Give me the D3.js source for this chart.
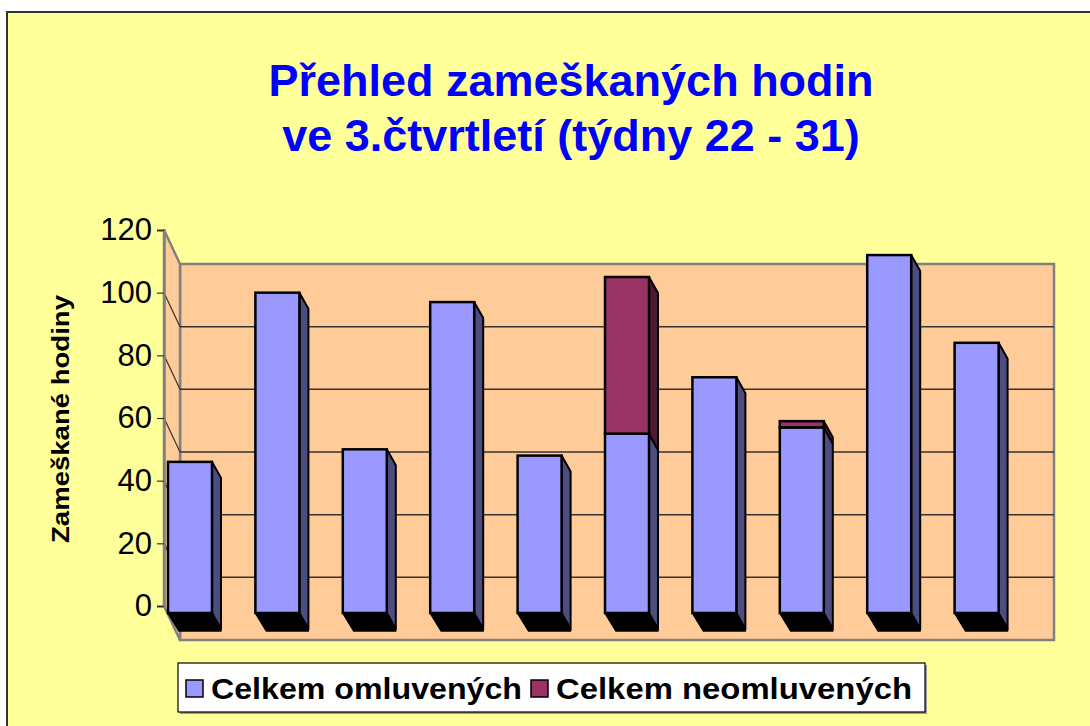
<!DOCTYPE html>
<html>
<head>
<meta charset="utf-8">
<script src="https://cdn.jsdelivr.net/npm/d3@7"></script>
<style>
html,body{margin:0;padding:0;background:#fff;}
svg{display:block;font-family:"Liberation Sans",Arial,sans-serif;}
</style>
</head>
<body>
<svg id="chart" width="1090" height="726"></svg>
<script>
// ---- data ----
const categories = ["22","23","24","25","26","27","28","29","30","31"];
const omluvene   = [46, 100, 50, 97, 48, 55, 73, 57, 112, 84];
const neomluvene = [0, 0, 0, 0, 0, 50, 0, 2, 0, 0];
const yTicks = [0, 20, 40, 60, 80, 100, 120];
const seriesNames = ["Celkem omluvených", "Celkem neomluvených"];
const titleLines = ["Přehled zameškaných hodin", "ve 3.čtvrtletí (týdny 22 - 31)"];
const yTitle = "Zameškané hodiny";

// ---- layout ----
const svg = d3.select("#chart");
const colors = {
  front: ["#9999ff", "#993366"],
  side:  ["#4d4d80", "#4d1a33"],
};
const wallDX = 16, wallDY = 34;     // depth of walls
const barDX = 9, barDY = 16;        // depth of bars
const baseDrop = 7;                 // bar plane offset below front zero
const y = d3.scaleLinear().domain([0, 120]).range([606, 230]);
const x = d3.scaleBand().domain(categories).range([164, 1038]).padding(0);
const barW = 44, barOff = 4;

// background + border
svg.append("rect").attr("x", 7).attr("y", 12).attr("width", 1100).attr("height", 730)
  .attr("fill", "#ffff99").attr("stroke", "#333").attr("stroke-width", 2);

// title
const t = svg.append("text").attr("text-anchor", "middle")
  .attr("font-weight", "bold").attr("font-size", 45).attr("fill", "#0000ff");
titleLines.forEach((l, i) => t.append("tspan").attr("x", 571).attr("y", 96 + i * 55).text(l));

// walls
const x0 = x.range()[0], x1 = x.range()[1];
const yTop = y(120), yBot = y(0);
svg.append("rect").attr("x", x0 + wallDX).attr("y", yTop + wallDY)
  .attr("width", x1 - x0).attr("height", yBot - yTop)
  .attr("fill", "#ffcc99").attr("stroke", "#808080").attr("stroke-width", 2.5);
svg.append("path")
  .attr("d", `M${x0},${yTop}L${x0 + wallDX},${yTop + wallDY}L${x0 + wallDX},${yBot + wallDY}L${x0},${yBot}Z`)
  .attr("fill", "#ffcc99").attr("stroke", "#808080").attr("stroke-width", 2.5).attr("stroke-linejoin", "round");

// gridlines
const grid = yTicks.filter(v => v > 0 && v < 120);
svg.append("g").selectAll("line").data(grid).join("line")
  .attr("x1", x0 + wallDX).attr("x2", x1 + wallDX)
  .attr("y1", d => y(d) + wallDY).attr("y2", d => y(d) + wallDY)
  .attr("stroke", "#333").attr("stroke-width", 1.5);
svg.append("g").selectAll("line").data(grid).join("line")
  .attr("x1", x0).attr("x2", x0 + wallDX)
  .attr("y1", d => y(d)).attr("y2", d => y(d) + wallDY)
  .attr("stroke", "#333").attr("stroke-width", 1.2);

// y axis
const yAxis = d3.axisLeft(y).tickValues(yTicks).tickSize(7).tickPadding(5);
const ga = svg.append("g").attr("transform", `translate(${x0},0)`).call(yAxis);
ga.attr("font-size", 31).attr("font-family", "'Liberation Sans',Arial,sans-serif");
ga.select(".domain").attr("stroke", "#808080").attr("stroke-width", 2.5);
ga.selectAll(".tick line").attr("stroke", "#333").attr("stroke-width", 1.2);
ga.selectAll(".tick text").attr("fill", "#000");

// y title
svg.append("text").attr("transform", "translate(69,419) rotate(-90)")
  .attr("text-anchor", "middle").attr("font-weight", "bold").attr("font-size", 23)
  .attr("textLength", 248).attr("lengthAdjust", "spacingAndGlyphs")
  .attr("fill", "#000").text(yTitle);

// bars
const stacked = categories.map((c, i) => {
  const segs = [];
  let base = 0;
  [omluvene[i], neomluvene[i]].forEach((v, s) => {
    if (v > 0) { segs.push({ s, lo: base, hi: base + v }); base += v; }
  });
  return { c, segs, total: base };
});
const bars = svg.append("g").selectAll("g").data(stacked).join("g");
bars.each(function (d) {
  const g = d3.select(this);
  const bx0 = x(d.c) + barOff, bx1 = bx0 + barW;
  const yb = y(0) + baseDrop;
  const ys = v => (v === 0 ? yb : y(v));
  d.segs.forEach(sg => {
    const a = ys(sg.hi), b = ys(sg.lo);
    g.append("path")
      .attr("d", `M${bx1},${a}L${bx1 + barDX},${a + barDY}L${bx1 + barDX},${b + barDY}L${bx1},${b}Z`)
      .attr("fill", colors.side[sg.s]).attr("stroke", "#000").attr("stroke-width", 2).attr("stroke-linejoin", "round");
  });
  g.append("path")
    .attr("d", `M${bx0},${yb}L${bx1},${yb}L${bx1 + barDX},${yb + barDY}L${bx1 + barDX},${yb + barDY + 2}L${bx0 + 11},${yb + barDY + 2}Z`)
    .attr("fill", "#000").attr("stroke", "#000").attr("stroke-width", 1.5).attr("stroke-linejoin", "round");
  d.segs.forEach(sg => {
    const a = ys(sg.hi), b = ys(sg.lo);
    g.append("rect").attr("x", bx0).attr("y", a).attr("width", barW).attr("height", b - a)
      .attr("fill", colors.front[sg.s]).attr("stroke", "#000").attr("stroke-width", 2.5);
  });
});

// legend
const lg = svg.append("g");
lg.append("rect").attr("x", 180).attr("y", 665).attr("width", 747).attr("height", 49).attr("fill", "#999");
lg.append("rect").attr("x", 178).attr("y", 663).attr("width", 747).attr("height", 49)
  .attr("fill", "#fff").attr("stroke", "#000").attr("stroke-width", 1.2);
const legX = [186, 531];
const legLen = [311, 356];
seriesNames.forEach((n, i) => {
  lg.append("rect").attr("x", legX[i]).attr("y", 680).attr("width", 17).attr("height", 17)
    .attr("fill", colors.front[i]).attr("stroke", "#000").attr("stroke-width", 1.5);
  lg.append("text").attr("x", legX[i] + 25).attr("y", 699).attr("font-weight", "bold")
    .attr("font-size", 30).attr("textLength", legLen[i]).attr("lengthAdjust", "spacingAndGlyphs")
    .attr("fill", "#000").text(n);
});
</script>
</body>
</html>
